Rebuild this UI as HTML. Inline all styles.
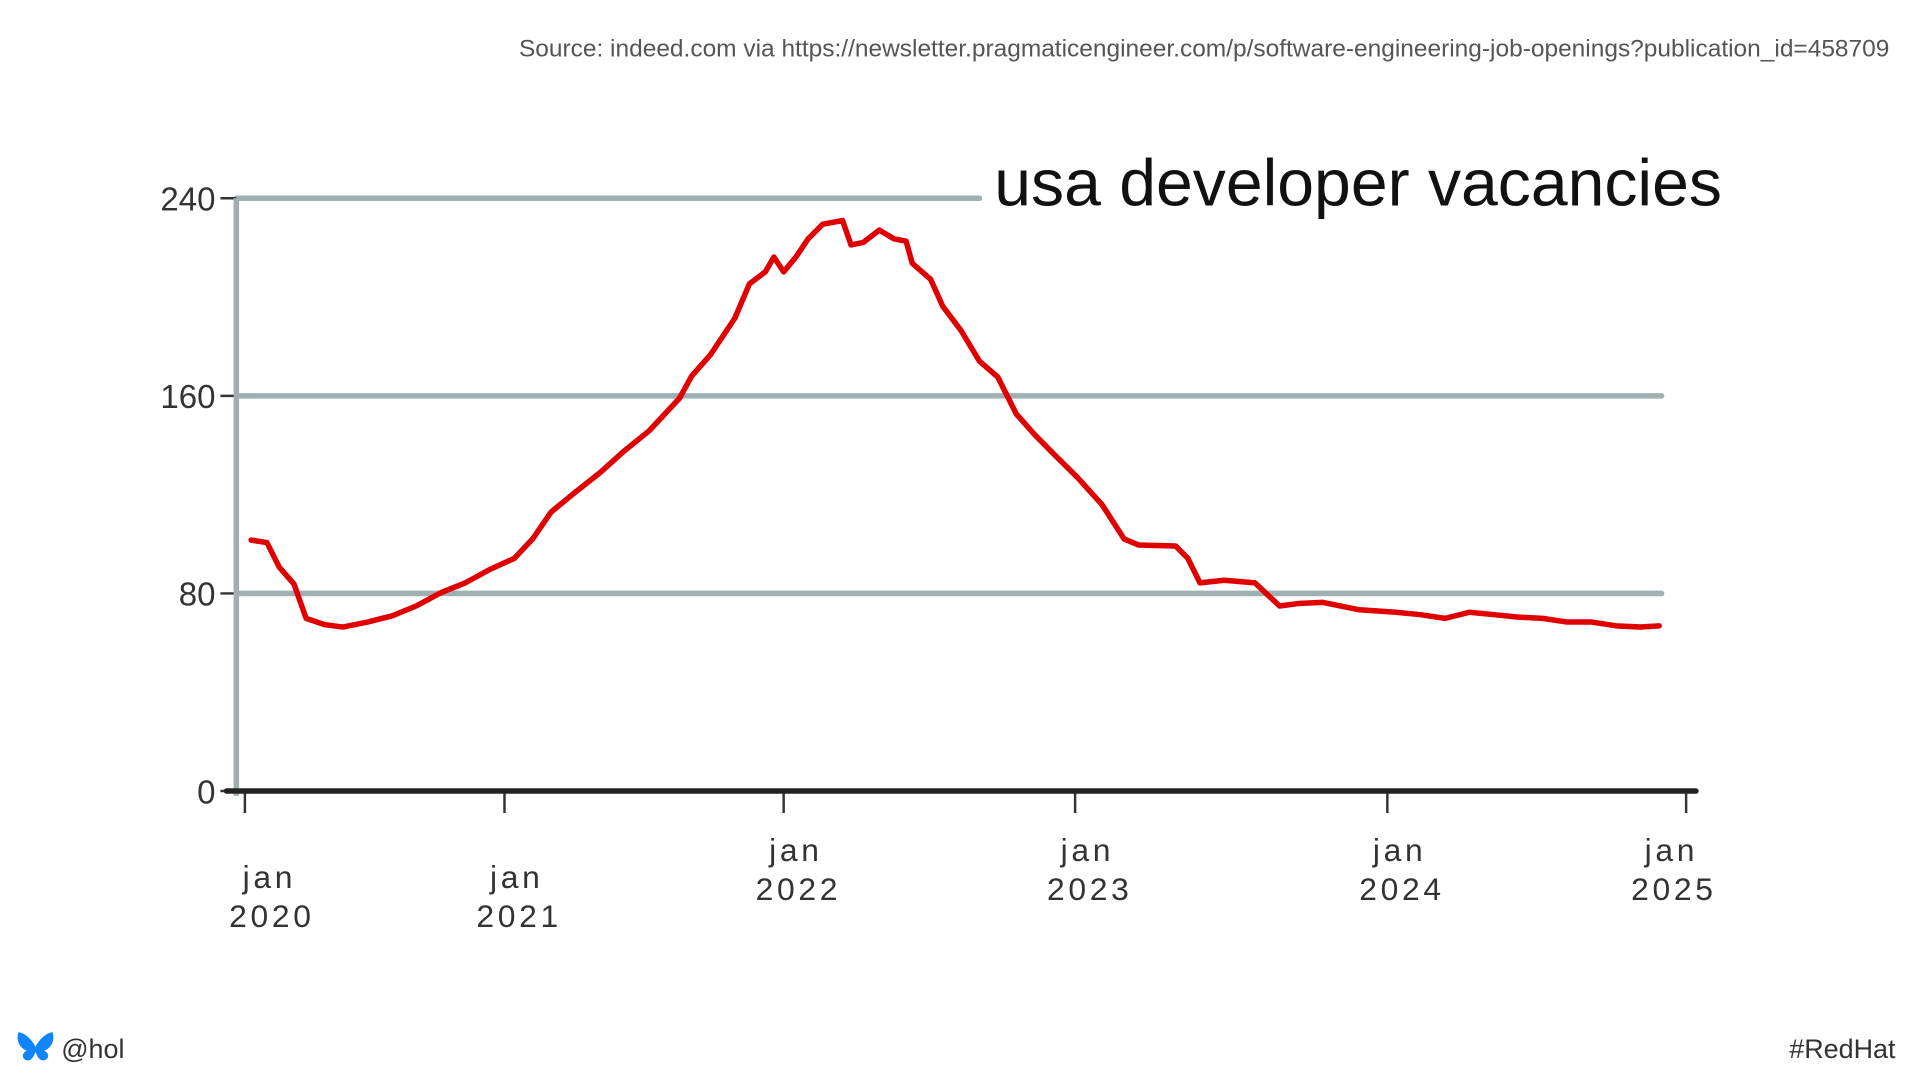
<!DOCTYPE html>
<html><head><meta charset="utf-8">
<style>
html,body{margin:0;padding:0;background:#fff;width:1920px;height:1080px;overflow:hidden}
svg{display:block}
text{font-family:"Liberation Sans",sans-serif}
</style></head>
<body>
<svg id="chart" width="1920" height="1080" viewBox="0 0 1568 882" xmlns="http://www.w3.org/2000/svg">
<text x="1543" y="46" text-anchor="end" font-size="20" fill="#555">Source: indeed.com via https://newsletter.pragmaticengineer.com/p/software-engineering-job-openings?publication_id=458709</text>
<text x="812" y="168" font-size="54" fill="#111" style="letter-spacing:0px;font-weight:300">usa developer vacancies</text>
<g id="grid"></g>
<g id="axes"></g>
<g id="series"></g>
<g>
<path d="M15 843 C20 843 27 850 29 855 C31 850 38 843 43 843 C45 850 42 856 36 858 C41 860 40 866 35 866 C32 866 30 862 29 859 C28 862 26 866 23 866 C18 866 17 860 22 858 C16 856 13 850 15 843Z" fill="#1185fe"/>
<text x="50" y="864" font-size="22" fill="#333" font-family="Liberation Mono">@hol</text>
<text x="1548" y="864" text-anchor="end" font-size="22" fill="#333" font-family="Liberation Mono">#RedHat</text>
</g>
</svg>
<script>
const years=[2020.024,2020.085,2020.132,2020.189,2020.236,2020.307,2020.377,2020.472,2020.566,2020.660,2020.755,2020.849,2020.943,2021.035,2021.101,2021.167,2021.254,2021.342,2021.430,2021.518,2021.627,2021.671,2021.737,2021.825,2021.877,2021.934,2021.965,2022.000,2022.042,2022.084,2022.134,2022.202,2022.231,2022.273,2022.328,2022.378,2022.420,2022.441,2022.504,2022.546,2022.609,2022.672,2022.735,2022.798,2022.861,2022.924,2023.008,2023.086,2023.157,2023.204,2023.322,2023.361,2023.400,2023.478,2023.576,2023.655,2023.714,2023.792,2023.910,2024.029,2024.111,2024.193,2024.275,2024.357,2024.439,2024.520,2024.602,2024.684,2024.766,2024.848,2024.910];
const vacancies=[101.6,100.6,90.7,83.8,69.9,67.4,66.4,68.4,70.9,74.9,80.3,84.3,89.7,94.2,102.1,113.0,121.0,128.9,137.8,145.8,159.1,168.1,176.5,191.4,205.3,210.2,216.2,210.2,216.2,223.6,229.5,231.0,221.1,222.1,227.1,223.6,222.6,213.7,207.2,196.3,186.4,174.0,167.6,152.7,144.3,136.8,126.9,116.0,102.1,99.6,99.2,94.2,84.3,85.3,84.3,74.9,75.9,76.4,73.4,72.4,71.4,69.9,72.4,71.4,70.4,69.9,68.4,68.4,66.9,66.4,66.9];
const yTicks=[0,80,160,240];
const xTickYears=[2020,2021,2022,2023,2024,2025];
const xTickLabels=["jan 2020","jan 2021","jan 2022","jan 2023","jan 2024","jan 2025"];

const NS="http://www.w3.org/2000/svg";
// hand-drawn axis: yearly tick pixels are uneven, so scale is piecewise linear
const knotPx=[200,412,640,878,1133,1377];
const X=y=>{let i=Math.min(Math.max(Math.floor(y-2020),0),4);return knotPx[i]+(y-2020-i)*(knotPx[i+1]-knotPx[i]);};
const Y=v=>646-v*2.017;
function mk(tag,attrs,parent){const e=document.createElementNS(NS,tag);for(const k in attrs)e.setAttribute(k,attrs[k]);parent.appendChild(e);return e;}
const grid=document.getElementById('grid'),axes=document.getElementById('axes'),series=document.getElementById('series');

yTicks.forEach(t=>{
  if(t>0){
    const ln=mk('line',{x1:193,x2:t===240?800:1357,y1:Y(t),y2:Y(t),stroke:'#9fb0b3','stroke-width':4.5,'stroke-linecap':'round'},grid);
    
    
  }
  const tk=mk('line',{x1:180,x2:193,y1:Y(t),y2:Y(t),stroke:'#333','stroke-width':2},axes);
  
  
  const lb=mk('text',{x:176,y:Y(t)+10,'text-anchor':'end','font-size':27,fill:'#333'},axes);
  lb.textContent=t;
  
  
});
const ya=mk('line',{x1:193,x2:193,y1:Y(240),y2:650,stroke:'#9fb0b3','stroke-width':4.5},axes);


const xa=mk('line',{x1:185,x2:1385,y1:646,y2:646,stroke:'#222','stroke-width':4.5,'stroke-linecap':'round'},axes);


xTickYears.forEach((yr,i)=>{
  const x=X(yr);
  const tk=mk('line',{x1:x,x2:x,y1:648,y2:664,stroke:'#333','stroke-width':2},axes);
  
  
  const parts=xTickLabels[i].split(' ');
  const cx=x+(i===0?20:i===5?-12:10);
  const t=mk('text',{x:cx,y:i<2?725:703,'text-anchor':'middle','font-size':26,fill:'#333','letter-spacing':3},axes);
  
  
  const a=mk('tspan',{x:cx},t);a.textContent=parts[0];
  const b=mk('tspan',{x:cx+2,dy:32},t);b.textContent=parts[1];
});
const d=years.map((y,i)=>(i?'L':'M')+X(y).toFixed(1)+' '+Y(vacancies[i]).toFixed(1)).join(' ');
const p=mk('path',{d:d,fill:'none',stroke:'#e00000','stroke-width':4.5,'stroke-linejoin':'round','stroke-linecap':'round'},series);


</script>
</body></html>
